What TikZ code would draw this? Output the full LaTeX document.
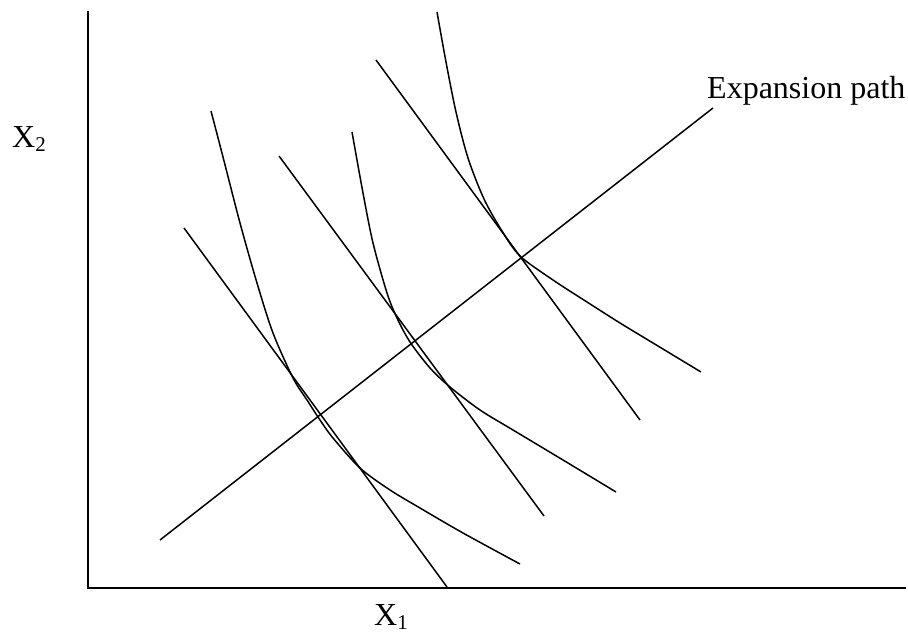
\documentclass[tikz,border=0pt]{standalone}
\usepackage{fontspec}
\setmainfont{Liberation Serif}
\begin{document}
\begin{tikzpicture}[x=1pt,y=-1pt,
  axis/.style={line width=1.9pt,line cap=rect},
  curve/.style={line width=1.5pt},
  lbl/.style={inner sep=0pt,anchor=base west,font=\fontsize{32}{38}\selectfont}]
\useasboundingbox (0,0) rectangle (908,634);
\fill[white] (0,0) rectangle (908,634);
% axes
\coordinate (top) at (88,12);
\coordinate (origin) at (88,588);
\coordinate (right) at (905,588);
\draw[axis] (top) -- (origin) -- (right);
% labels
\node[lbl] (x2) at (12,147) {X\raisebox{-4pt}{\fontsize{21}{21}\selectfont 2}};
\node[lbl] (x1) at (374,625) {X\raisebox{-4pt}{\fontsize{21}{21}\selectfont 1}};
\node[lbl] (ep) at (707,99) {Expansion path};
% expansion path
\coordinate (e0) at (160,540);
\coordinate (e1) at (713,108);
\draw[curve] (e0) -- (e1);
% isocost lines
\coordinate (c1a) at (184,228); \coordinate (c1b) at (447,587);
\coordinate (c2a) at (279,156); \coordinate (c2b) at (544,516);
\coordinate (c3a) at (376,60);  \coordinate (c3b) at (640,420);
\draw[curve] (c1a) -- (c1b);
\draw[curve] (c2a) -- (c2b);
\draw[curve] (c3a) -- (c3b);
% isoquants
\draw[curve] plot[smooth,tension=0.5] coordinates {(211,111) (223,157) (240,223) (257,283) (273,333) (293,378) (307,400) (320,420) (333,438) (360,468) (390,490) (420,508) (463,533) (520,564)};
\draw[curve] plot[smooth,tension=0.5] coordinates {(352,132) (363,193) (373,243) (387,293) (397,318) (410,342) (430,368) (450,387) (480,410) (513,430) (563,460) (616,492)};
\draw[curve] plot[smooth,tension=0.5] coordinates {(437,12) (446,62) (456,112) (468,158) (484,199) (502,231) (520,256) (553,280) (587,302) (620,323) (653,343) (701,372)};
\end{tikzpicture}
\end{document}
